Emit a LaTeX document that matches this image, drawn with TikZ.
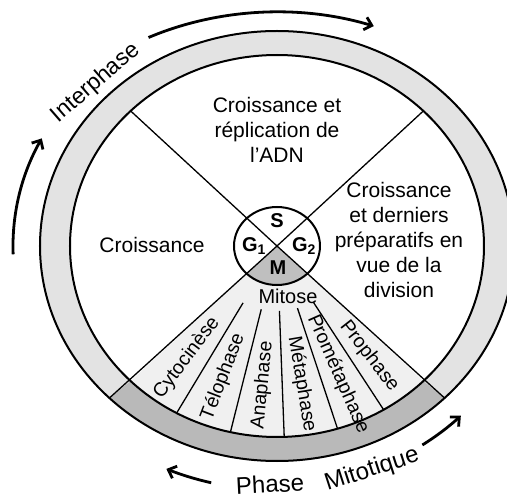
\documentclass[tikz,border=0pt]{standalone}
\usepackage{fontspec}
\setmainfont{Liberation Sans}
\usetikzlibrary{arrows.meta}

\begin{document}
\begin{tikzpicture}[x=1pt,y=1pt,
    lab/.style={font=\fontsize{21}{25}\selectfont, align=center, inner sep=0pt},
    phaselab/.style={font=\fontsize{19.5}{22}\selectfont, inner sep=0pt},
    cyclab/.style={font=\fontsize{24}{28}\selectfont, inner sep=0pt},
    phasebox/.style={font=\fontsize{20}{22}\selectfont\bfseries, inner sep=0pt},
    arr/.style={line width=2.8pt, -{Straight Barb[length=7pt,width=13pt]}},
    ring/.style={line width=2pt},
    sep/.style={line width=1.3pt}]
    \useasboundingbox (-277,-252) rectangle (230,246);
    % rings
    \fill[gray!22] (0,0) ellipse [x radius=237, y radius=215];
    \fill[gray!55] (225:207 and 191) -- (225:237 and 215)
        arc[start angle=225, end angle=315, x radius=237, y radius=215]
        -- (315:207 and 191)
        arc[start angle=315, end angle=225, x radius=207, y radius=191] -- cycle;
    \fill[white] (0,0) ellipse [x radius=207, y radius=191];
    \fill[gray!12] (0,0) -- (225:207 and 191)
        arc[start angle=225, end angle=315, x radius=207, y radius=191] -- cycle;
    \fill[white] (0,0) ellipse [x radius=43, y radius=39];
    \fill[gray!50] (0,0) -- (225:43 and 39)
        arc[start angle=225, end angle=315, x radius=43, y radius=39] -- cycle;
    \draw[ring] (0,0) ellipse [x radius=237, y radius=215];
    \draw[ring] (0,0) ellipse [x radius=207, y radius=191];
    \draw[ring] (0,0) ellipse [x radius=43, y radius=39];
    % sectors
    \draw[sep] (135:207 and 191) -- (0,0) -- (315:237 and 215);
    \draw[sep] (45:207 and 191) -- (0,0) -- (225:237 and 215);
    \foreach \a in {241,257,272,287,301}
        \draw[sep] (\a:70 and 65) -- (\a:207 and 191);

    \node[lab] (top) at (0,116) {Croissance et\\réplication de\\l'ADN};
    \node[lab] (left) at (-125,1) {Croissance};
    \node[lab] (right) at (122,6) {Croissance\\et derniers\\préparatifs en\\vue de la\\division};
    \node[phasebox] (S) at (0,25) {S};
    \node[phasebox] (G1) at (-23,0) {G\textsubscript{1}};
    \node[phasebox] (G2) at (27,0) {G\textsubscript{2}};
    \node[phasebox] (M) at (1,-22) {M};
    \node[lab, font=\fontsize{20}{22}\selectfont] (mitose) at (11,-50) {Mitose};
    \foreach \t/\a/\r [count=\i] in {Cytocinèse/233/53, Télophase/249/69,
        Anaphase/264.5/84.5, Métaphase/279.5/-80.5, Prométaphase/294/-66, Prophase/308/-52}
        \node[phaselab, rotate=\r] (ph\i) at (\a:150 and 140) {\t};

    % cycle arrows
    \draw[arr] (182:264 and 237) arc[start angle=182, end angle=153, x radius=264, y radius=237];
    \node[cyclab, font=\fontsize{23}{26}\selectfont, rotate=41] (inter) at (-181,163) {Interphase};
    \draw[arr] (117:283 and 234) arc[start angle=117, end angle=70, x radius=283, y radius=234];
    \draw[arr] (256:272 and 244) arc[start angle=256, end angle=246, x radius=272, y radius=244];
    \node[cyclab, rotate=3] (phase) at (-7,-238) {Phase};
    \node[cyclab, rotate=18] (mitot) at (95,-224) {Mitotique};
    \draw[arr] (304:260 and 240) arc[start angle=304, end angle=315, x radius=260, y radius=240];
\end{tikzpicture}
\end{document}
